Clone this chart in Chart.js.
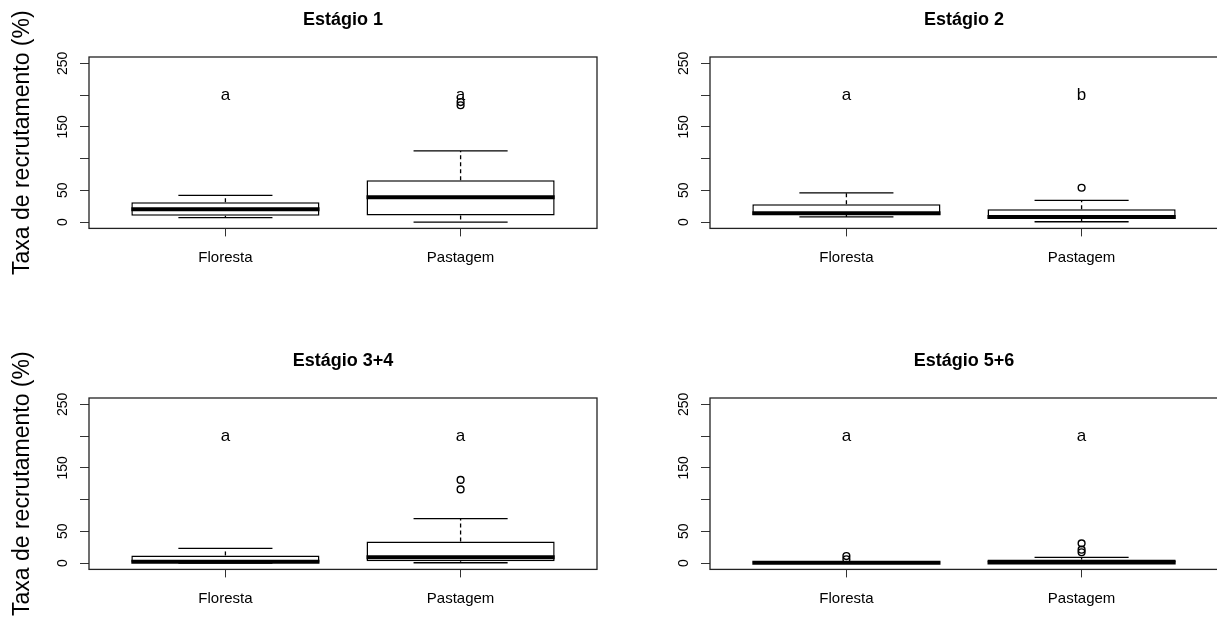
<!DOCTYPE html>
<html>
<head>
<meta charset="utf-8">
<script src="https://cdn.jsdelivr.net/npm/chart.js@4.4.1/dist/chart.umd.min.js"></script>
<style>
  body { margin: 0; background: #fff; }
  #wrap { position: relative; width: 1217px; height: 619px; overflow: hidden; background: #fff; }
  #wrap canvas { position: absolute; }
</style>
</head>
<body>
<div id="wrap"></div>
<script>
const categories = ['Floresta', 'Pastagem'];
const stageTitles = ['Estágio 1', 'Estágio 2', 'Estágio 3+4', 'Estágio 5+6'];
const yTitle = 'Taxa de recrutamento (%)';
const yTicks = [0, 50, 100, 150, 200, 250];
const yTickLabels = ['0', '50', '', '150', '', '250'];

// one pair [Floresta, Pastagem] per stage
const whiskerLow = [[7, 0], [8, 0.5], [0, 0.5], [0, 0]];
const q1 = [[10, 10.5], [11, 5], [0, 3], [0, 0]];
const medians = [[20, 39], [14, 8], [2, 9], [0.5, 1]];
const q3 = [[31, 66], [28, 20], [12, 34], [1.5, 5.5]];
const whiskerHigh = [[42, 112], [46, 34], [23, 70], [2, 9]];
const outliers = [[[], [184, 189]], [[], [54]], [[], [116, 131]], [[6, 11], [17, 21, 31]]];
const letters = [['a', 'a'], ['a', 'b'], ['a', 'a'], ['a', 'a']];

Chart.defaults.font.family = '"Liberation Sans", Arial, sans-serif';
Chart.defaults.color = '#000';

function boxPlugin(p) {
  return {
    id: 'boxDetails' + p,
    afterDatasetsDraw(chart) {
      const ctx = chart.ctx;
      const y = chart.scales.y;
      const area = chart.chartArea;
      const bars = chart.getDatasetMeta(0).data;

      ctx.save();
      ctx.strokeStyle = '#000';

      bars.forEach((bar, i) => {
        const x = bar.x;
        const half = bar.width / 2;
        const cap = half / 2;

        // whiskers
        ctx.lineWidth = 1.3;
        ctx.setLineDash([4, 3]);
        ctx.beginPath();
        ctx.moveTo(x, y.getPixelForValue(q3[p][i]));
        ctx.lineTo(x, y.getPixelForValue(whiskerHigh[p][i]));
        ctx.moveTo(x, y.getPixelForValue(q1[p][i]));
        ctx.lineTo(x, y.getPixelForValue(whiskerLow[p][i]));
        ctx.stroke();
        ctx.setLineDash([]);

        ctx.beginPath();
        [whiskerHigh[p][i], whiskerLow[p][i]].forEach(v => {
          const py = y.getPixelForValue(v);
          ctx.moveTo(x - cap, py);
          ctx.lineTo(x + cap, py);
        });
        ctx.stroke();

        // median
        ctx.lineWidth = 4;
        ctx.beginPath();
        const my = y.getPixelForValue(medians[p][i]);
        ctx.moveTo(x - half, my);
        ctx.lineTo(x + half, my);
        ctx.stroke();

        // group letters
        ctx.fillStyle = '#000';
        ctx.font = '17px "Liberation Sans", Arial, sans-serif';
        ctx.textAlign = 'center';
        ctx.textBaseline = 'middle';
        ctx.fillText(letters[p][i], x, y.getPixelForValue(200));
      });

      // plot frame
      ctx.lineWidth = 1.3;
      ctx.strokeStyle = '#222';
      ctx.strokeRect(area.left, area.top, area.right - area.left, area.bottom - area.top);
      ctx.restore();
    }
  };
}

function makePanel(p) {
  const canvas = document.createElement('canvas');
  canvas.width = 608;
  canvas.height = 300;
  canvas.style.left = (p % 2 === 0 ? 0 : 621) + 'px';
  canvas.style.top = (p < 2 ? 0 : 341) + 'px';
  document.getElementById('wrap').appendChild(canvas);

  const boxes = categories.map((c, i) => ({ x: i + 1, y: [q1[p][i], q3[p][i]] }));
  const points = [];
  categories.forEach((c, i) => {
    outliers[p][i].forEach(v => points.push({ x: i + 1, y: v }));
  });

  new Chart(canvas, {
    type: 'bar',
    data: {
      datasets: [
        {
          type: 'bar',
          data: boxes,
          backgroundColor: '#fff',
          borderColor: '#000',
          borderWidth: 1.5,
          borderSkipped: false,
          barPercentage: 1,
          categoryPercentage: 0.8
        },
        {
          type: 'scatter',
          data: points,
          pointStyle: 'circle',
          pointRadius: 3.4,
          borderWidth: 1.4,
          borderColor: '#000',
          backgroundColor: 'rgba(0,0,0,0)'
        }
      ]
    },
    options: {
      responsive: false,
      animation: false,
      events: [],
      layout: { padding: { right: 11 } },
      plugins: {
        legend: { display: false },
        tooltip: { enabled: false },
        title: {
          display: true,
          text: stageTitles[p],
          fullSize: false,
          color: '#000',
          font: { size: 18, weight: 'bold' },
          padding: { top: 9.5, bottom: 25.9 }
        }
      },
      scales: {
        x: {
          type: 'linear',
          min: 0.42,
          max: 2.58,
          offset: false,
          afterBuildTicks: s => { s.ticks = categories.map((c, i) => ({ value: i + 1 })); },
          afterFit: s => { s.height = 71.6; },
          ticks: {
            callback: (v, i) => categories[i],
            font: { size: 15 },
            color: '#000',
            padding: 12,
            maxRotation: 0,
            autoSkip: false
          },
          grid: { offset: false, drawOnChartArea: false, tickLength: 8, color: '#333' },
          border: { display: false }
        },
        y: {
          min: -10,
          max: 260,
          afterBuildTicks: s => { s.ticks = yTicks.map(v => ({ value: v })); },
          afterFit: s => { s.width = 89; },
          ticks: {
            callback: (v, i) => yTickLabels[i],
            font: { size: 14 },
            color: '#000',
            minRotation: 90,
            maxRotation: 90,
            crossAlign: 'center',
            padding: 5,
            autoSkip: false
          },
          grid: { drawOnChartArea: false, tickLength: 9, color: '#333' },
          border: { display: false },
          title: {
            display: p % 2 === 0,
            text: yTitle,
            color: '#000',
            font: { size: 23 },
            padding: { top: 9, bottom: 0 }
          }
        }
      }
    },
    plugins: [boxPlugin(p)]
  });
}

[0, 1, 2, 3].forEach(makePanel);
</script>
</body>
</html>
